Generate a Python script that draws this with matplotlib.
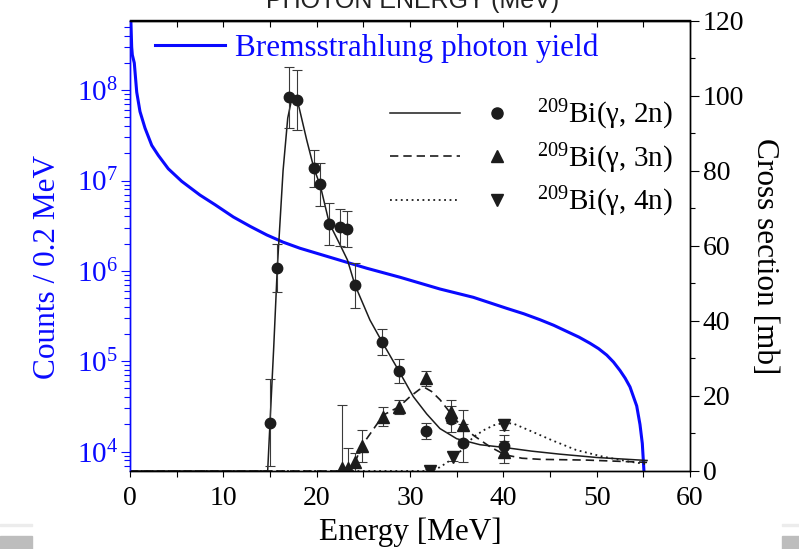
#!/usr/bin/env python3
"""Bremsstrahlung photon yield (left, log) and 209Bi(g,xn) cross sections (right) vs energy."""
import matplotlib
matplotlib.use('Agg')
import matplotlib.pyplot as plt
from matplotlib.legend_handler import HandlerTuple
from matplotlib.lines import Line2D
from matplotlib.patches import Rectangle
from matplotlib.ticker import MultipleLocator, LogLocator, NullFormatter

plt.rcParams.update({
    'font.family': ['Liberation Serif', 'DejaVu Serif'],
    'mathtext.fontset': 'custom',
    'mathtext.rm': 'Liberation Serif',
    'mathtext.it': 'Liberation Serif:italic',
    'mathtext.bf': 'Liberation Serif:bold',
    'axes.linewidth': 1.0,
})

BLUE = '#0a0aff'
INK = '#1c1c1c'
EBAR = '#3a3a3a'

# --- bremsstrahlung photon yield (counts / 0.2 MeV) ---
brems_energy = [0.0, 0.11, 0.18, 0.25, 0.46, 0.72, 1.07, 1.61, 2.33, 3.03, 4.10, 5.54,
                7.50, 9.11, 11.07, 12.9, 14.65, 16.4, 18.21, 21.78, 25.36, 28.93, 33.21,
                36.78, 40.36, 42.2, 43.93, 45.4, 46.79, 48.1, 49.29, 50.2, 51.08, 51.8,
                52.50, 53.05, 53.57, 54.29, 54.64, 54.89, 55.07]
brems_counts = [1.0e9, 5.2e8, 3.0e8, 2.45e8, 2.0e8, 9.5e7, 5.8e7, 3.8e7, 2.45e7, 1.9e7,
                1.35e7, 9.8e6, 6.9e6, 5.4e6, 3.95e6, 3.1e6, 2.5e6, 2.08e6, 1.78e6, 1.38e6,
                1.07e6, 8.5e5, 6.3e5, 5.1e5, 3.85e5, 3.35e5, 2.88e5, 2.5e5, 2.14e5,
                1.85e5, 1.58e5, 1.38e5, 1.17e5, 9.8e4, 7.9e4, 6.5e4, 5.2e4, 3.2e4, 2.0e4,
                1.23e4, 6.0e3]

# --- 209Bi(g,2n) measured points [mb] ---
xs2_energy = [15.0, 15.78, 17.04, 17.86, 19.71, 20.39, 21.35, 22.5, 23.28, 24.11,
              27.03, 28.82, 31.68, 34.36, 35.71, 40.07]
xs2 = [12.8, 54.0, 99.5, 98.8, 80.6, 76.4, 65.8, 64.9, 64.5, 49.5,
       34.3, 26.6, 10.7, 13.8, 7.4, 6.7]
xs2_err = [11.6, 6.4, 8.1, 8.1, 4.9, 5.7, 5.6, 5.0, 4.7, 6.0,
           3.5, 3.2, 2.1, 3.5, 5.0, 3.0]

# --- 209Bi(g,3n) measured points ---
xs3_energy = [22.68, 23.39, 24.11, 24.83, 27.08, 28.82, 31.68, 34.36, 35.71, 40.07]
xs3 = [0.7, 0.7, 2.3, 6.7, 14.5, 17.1, 24.7, 15.8, 12.3, 5.1]
xs3_err = [17.0, 5.5, 2.5, 4.2, 2.5, 1.9, 2.0, 3.0, 4.0, 3.0]

# --- 209Bi(g,4n) measured points ---
xs4_energy = [32.14, 34.64, 40.07]
xs4 = [0.0, 3.8, 12.3]
xs4_err = [0.4, 1.2, 1.5]

# --- evaluated curves ---
fit2_energy = [0, 14.75, 15.0, 15.4, 15.78, 16.4, 16.9, 17.3, 17.65, 18.1, 18.93, 19.71,
               20.39, 21.35, 22.5, 23.3, 24.11, 25.71, 27.03, 28.82, 30.36, 31.79, 33.21,
               35.0, 37.5, 40.0, 43.0, 46.0, 50.0, 55.4]
fit2 = [0, 0, 12.8, 33.0, 54.0, 80.0, 94.0, 98.8, 99.5, 97.0, 88.2, 80.6,
        76.0, 66.0, 60.3, 56.2, 49.5, 40.2, 34.3, 26.6, 19.8, 15.2, 11.3,
        8.6, 7.0, 6.3, 5.3, 4.5, 3.6, 2.8]

fit3_energy = [0, 22.3, 22.68, 23.39, 24.11, 24.83, 25.9, 27.14, 28.82, 30.0, 31.0, 31.6,
               32.3, 33.21, 34.0, 35.0, 36.8, 38.6, 40.2, 42.0, 44.0, 49.0, 55.4]
fit3 = [0, 0, 0.6, 1.0, 2.3, 6.7, 10.5, 14.9, 17.1, 19.8, 21.7, 22.2,
        21.2, 19.0, 16.5, 13.3, 9.5, 6.4, 4.3, 3.4, 3.1, 2.9, 2.3]

fit4_energy = [0, 32.14, 33.2, 34.64, 35.7, 36.8, 38.0, 39.0, 40.2, 41.2, 42.7, 45.2,
               47.8, 50.7, 53.5, 55.4]
fit4 = [0, 0, 1.0, 3.4, 6.0, 9.1, 11.0, 12.2, 12.9, 12.5, 10.9, 8.2,
        5.6, 3.8, 2.5, 1.8]

labels_xn = [r'$^{209}$Bi(γ, 2n)', r'$^{209}$Bi(γ, 3n)', r'$^{209}$Bi(γ, 4n)']

DASH = (0, (5, 3))
DOT = (0, (1, 2))

W, H = 799, 549
fig = plt.figure(figsize=(W / 100, H / 100), dpi=100)
ax = fig.add_axes([130 / W, 78 / H, 560 / W, 450.5 / H])
ax2 = ax.twinx()

# left: photon yield
ax.plot(brems_energy, brems_counts, color=BLUE, lw=2.2)
ax.set_yscale('log')
ax.set_xlim(0, 60)
ax.set_ylim(6.1e3, 5.9e8)
ax.yaxis.set_major_locator(LogLocator(base=10, numticks=10))
ax.yaxis.set_minor_locator(LogLocator(base=10, subs=range(2, 10), numticks=20))
ax.yaxis.set_minor_formatter(NullFormatter())
ax.tick_params(axis='y', which='major', direction='out', length=6.5, width=0.8,
               labelsize=21, pad=2, colors=BLUE)
ax.tick_params(axis='y', which='minor', direction='out', length=4, width=0.8, colors=BLUE)
ax.spines['left'].set_color(BLUE)

ax.xaxis.set_major_locator(MultipleLocator(10))
ax.xaxis.set_minor_locator(MultipleLocator(5))
ax.tick_params(axis='x', which='both', direction='out', length=4.5, width=0.8,
               labelsize=20, pad=6)
top = ax.secondary_xaxis('top')
top.xaxis.set_major_locator(MultipleLocator(5))
top.tick_params(axis='x', direction='in', length=5, width=0.8, labeltop=False)

# right: cross sections
ax2.plot(fit2_energy, fit2, color=INK, lw=1.1, ls='-')
ax2.plot(fit3_energy, fit3, color=INK, lw=1.2, ls=DASH)
ax2.plot(fit4_energy, fit4, color=INK, lw=1.3, ls=DOT)
ekw = dict(color=INK, ecolor=EBAR, elinewidth=0.8, capsize=3.5, capthick=0.8, ls='none')
ax2.errorbar(xs2_energy, xs2, yerr=xs2_err, marker='o', ms=7.5, **ekw)
ax2.errorbar(xs3_energy, xs3, yerr=xs3_err, marker='^', ms=8, **ekw)
ax2.errorbar(xs4_energy, xs4, yerr=xs4_err, marker='v', ms=8, **ekw)
ax2.set_ylim(0, 120)
ax2.yaxis.set_major_locator(MultipleLocator(20))
ax2.yaxis.set_minor_locator(MultipleLocator(10))
ax2.tick_params(axis='y', which='major', direction='out', length=6.3, width=0.8,
                labelsize=20, pad=3)
ax2.tick_params(axis='y', which='minor', direction='out', length=3.8, width=0.8)
ax2.spines['left'].set_color(BLUE)

# axis labels
ax.set_xlabel('Energy [MeV]', fontsize=22.5)
ax.xaxis.set_label_coords(0.5, -0.104)
ax.set_ylabel('Counts / 0.2 MeV', color=BLUE, fontsize=22.5)
ax.yaxis.set_label_coords(-0.121, 0.454)
ax2.set_ylabel('Cross section [mb]', fontsize=22.5, rotation=270, va='bottom')
ax2.yaxis.set_label_coords(1.107, 0.477)

# legends
leg1 = ax2.legend([Line2D([], [], color=BLUE, lw=2.2)], ['Bremsstrahlung photon yield'],
                  loc='center left', bbox_to_anchor=(25 / 560, (471 - 48) / 450.5),
                  handlelength=2.24, handletextpad=0.32, fontsize=22.5, frameon=False,
                  borderpad=0, borderaxespad=0, labelcolor=BLUE)
ax2.add_artist(leg1)
handles = [
    (Line2D([], [], color=INK, lw=1.1, ls='-'),
     Line2D([], [], ls='none', marker='o', color=INK, ms=8)),
    (Line2D([], [], color=INK, lw=1.2, ls=DASH),
     Line2D([], [], ls='none', marker='^', color=INK, ms=8)),
    (Line2D([], [], color=INK, lw=1.3, ls=DOT),
     Line2D([], [], ls='none', marker='v', color=INK, ms=8)),
]
ax2.legend(handles, labels_xn, handler_map={tuple: HandlerTuple(ndivide=None, pad=0.07)},
           loc='upper left', bbox_to_anchor=(0.464, 0.828), handlelength=4.86,
           handletextpad=0.2, fontsize=21, frameon=False, borderpad=0,
           borderaxespad=0, labelspacing=0.32)

# clipped caption above the frame and screenshot strips at the bottom
fig.text(413 / W, 1 - 8 / H, 'PHOTON ENERGY (MeV)', ha='center', va='baseline',
         family='Liberation Sans', fontsize=18, color='#222222')
for x0, x1 in [(0, 32), (782, 799)]:
    fig.patches.append(Rectangle((x0 / W, (H - 526) / H), (x1 - x0) / W, 2 / H,
                                 transform=fig.transFigure, color='#ececec', zorder=0))
    fig.patches.append(Rectangle((x0 / W, 0), (x1 - x0) / W, 13 / H,
                                 transform=fig.transFigure, color='#bdbdbd', zorder=0))

fig.savefig('out.png', dpi=100)
